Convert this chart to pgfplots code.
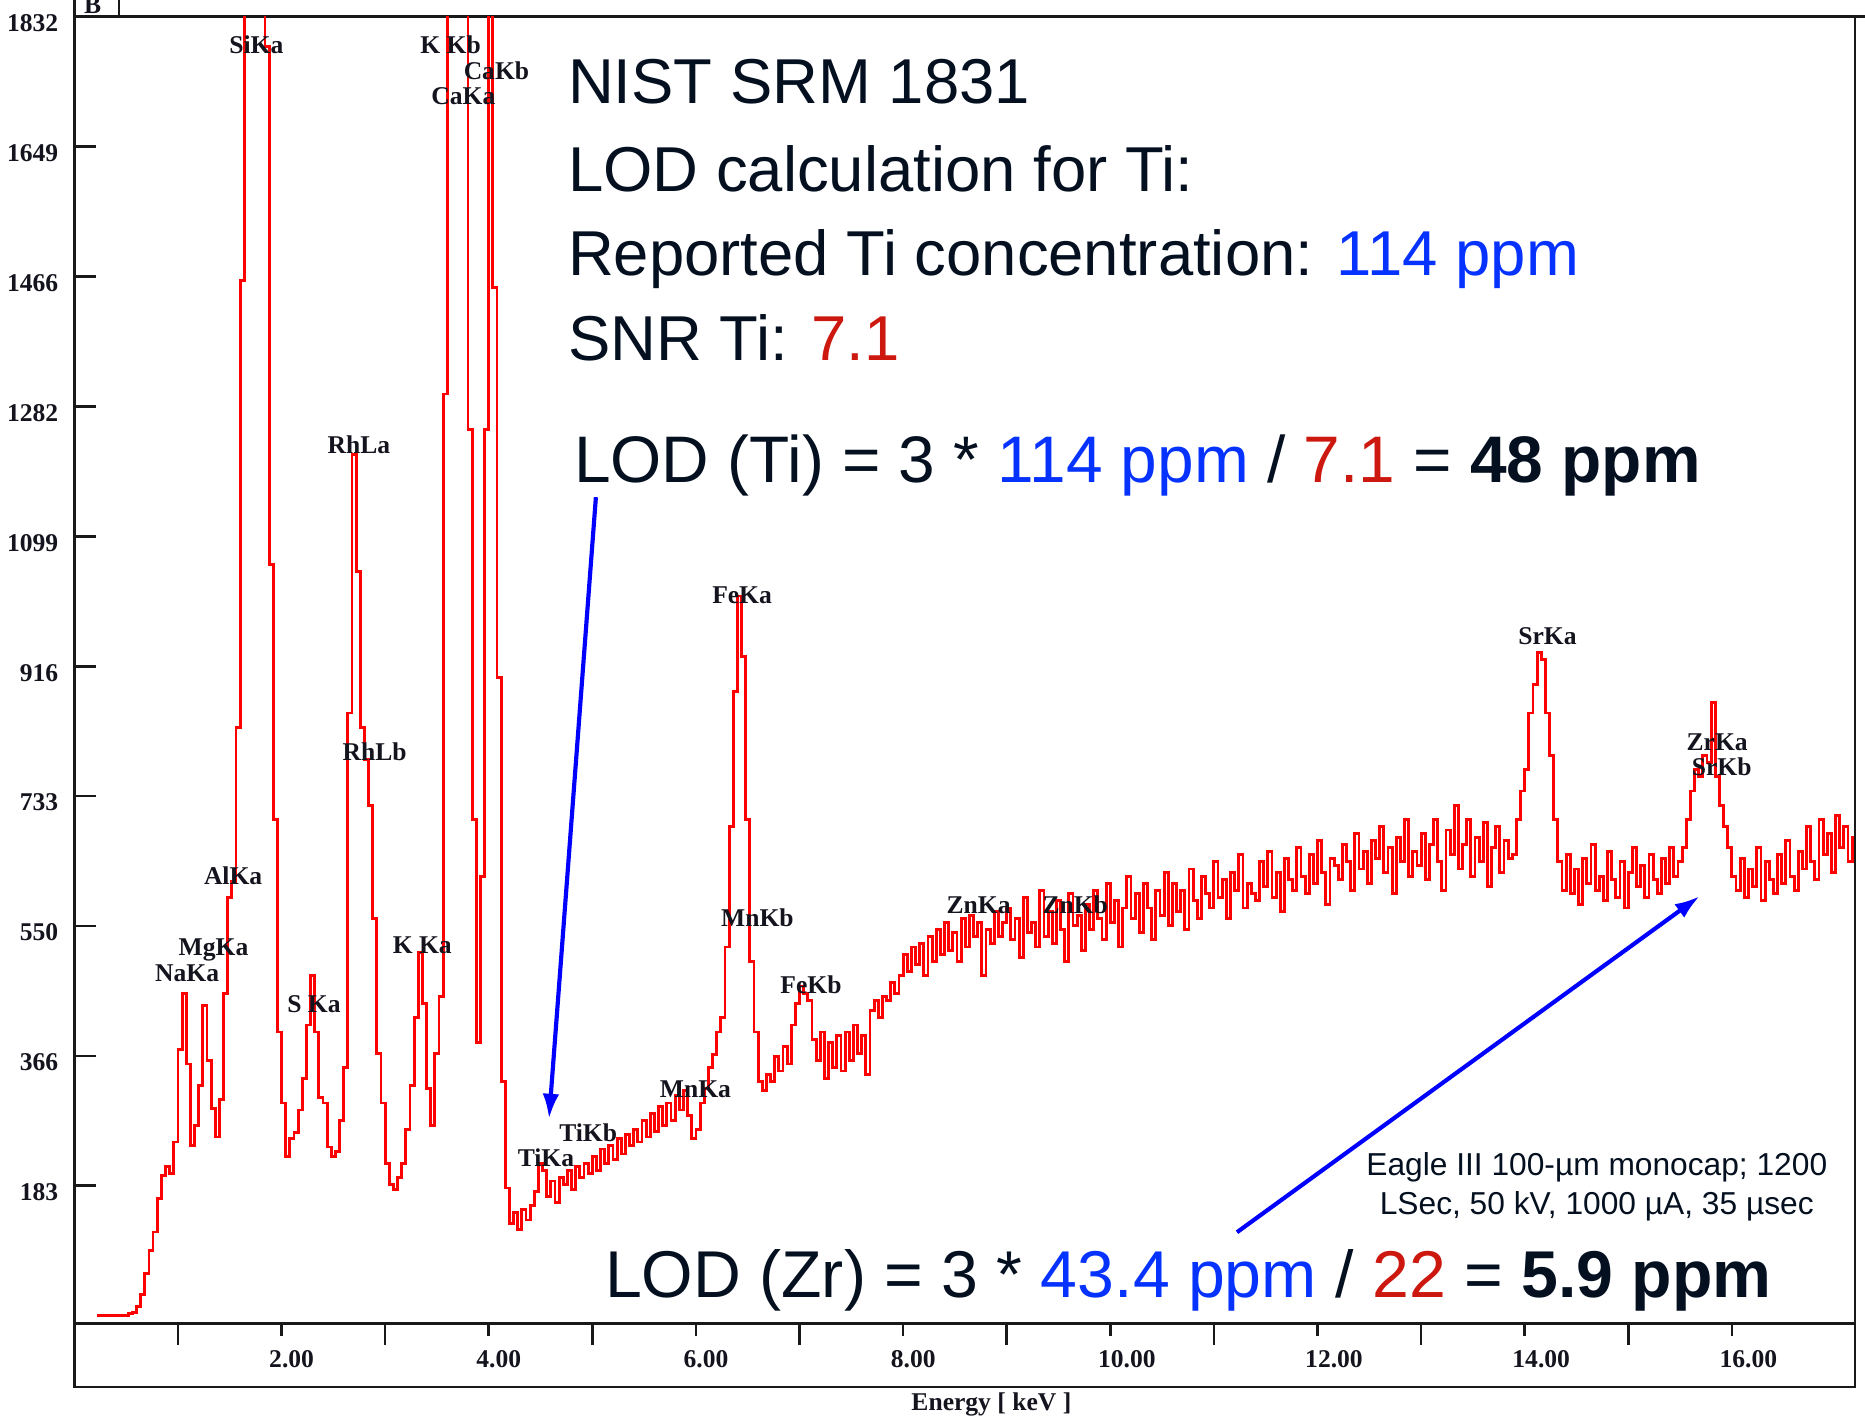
\documentclass[border=0pt]{standalone}
\usepackage{pgfplots}
\pgfplotsset{compat=1.18}
\usepackage{pgfplotstable}
\usepackage{fontspec}
\setmainfont{Liberation Sans}
\newfontfamily\tnr{Liberation Serif}
\usetikzlibrary{arrows.meta}

\definecolor{txt}{RGB}{4,16,32}
\definecolor{hiblue}{RGB}{5,50,255}
\definecolor{hired}{RGB}{204,24,14}
\definecolor{arrowblue}{RGB}{0,0,255}
\definecolor{frame}{RGB}{25,25,25}
\definecolor{lbl}{RGB}{20,20,30}

\newcommand\lblfont{\tnr\bfseries\fontsize{6.45}{7.5}\selectfont}

% XRF spectrum, counts per channel (channel centre in keV)
\pgfplotstableread{
E C
0.22 0
0.26 0
0.30 0
0.34 0
0.38 0
0.42 0
0.46 0
0.50 0
0.54 3
0.58 5
0.62 13
0.66 30
0.70 60
0.74 92
0.78 118
0.82 165
0.86 198
0.90 210
0.94 200
0.98 245
1.02 375
1.06 455
1.10 355
1.14 240
1.18 268
1.22 325
1.26 438
1.30 360
1.34 292
1.38 252
1.42 305
1.46 455
1.50 590
1.54 612
1.58 830
1.62 1460
1.66 2600
1.70 4200
1.74 4800
1.78 4000
1.82 2400
1.86 1790
1.90 1060
1.94 700
1.98 400
2.02 300
2.06 225
2.10 250
2.14 258
2.18 290
2.22 335
2.26 410
2.30 480
2.34 400
2.38 308
2.42 300
2.46 238
2.50 225
2.54 232
2.58 275
2.62 350
2.66 850
2.70 1215
2.74 1050
2.78 830
2.82 785
2.86 720
2.90 560
2.94 370
2.98 300
3.02 215
3.06 185
3.10 178
3.14 195
3.18 215
3.22 262
3.26 325
3.30 420
3.34 512
3.38 440
3.42 320
3.46 268
3.50 370
3.54 450
3.58 1300
3.62 2400
3.66 3200
3.70 4500
3.74 3800
3.78 2300
3.82 1250
3.86 700
3.90 385
3.94 620
3.98 1250
4.02 2300
4.06 1450
4.10 900
4.14 330
4.18 180
4.22 130
4.26 145
4.30 122
4.34 150
4.38 135
4.42 155
4.46 175
4.50 215
4.54 205
4.58 168
4.62 190
4.66 160
4.70 195
4.74 185
4.78 205
4.82 178
4.86 210
4.90 195
4.94 215
4.98 200
5.02 225
5.06 205
5.10 235
5.14 215
5.18 240
5.22 220
5.26 250
5.30 228
5.34 255
5.38 240
5.42 262
5.46 245
5.50 275
5.54 252
5.58 285
5.62 260
5.66 295
5.70 268
5.74 300
5.78 275
5.82 310
5.86 290
5.90 318
5.94 282
5.98 250
6.02 262
6.06 300
6.10 320
6.14 350
6.18 368
6.22 400
6.26 421
6.30 520
6.34 690
6.38 880
6.42 1015
6.46 930
6.50 700
6.54 500
6.58 400
6.62 330
6.66 318
6.70 340
6.74 330
6.78 365
6.82 345
6.86 380
6.90 355
6.94 410
6.98 440
7.02 465
7.06 455
7.10 445
7.14 390
7.18 360
7.22 400
7.26 335
7.30 385
7.34 350
7.38 395
7.42 345
7.46 400
7.50 360
7.54 410
7.58 370
7.62 395
7.66 340
7.70 430
7.74 445
7.78 420
7.82 450
7.86 445
7.90 470
7.94 455
7.98 480
8.02 510
8.06 485
8.10 520
8.14 495
8.18 525
8.22 480
8.26 535
8.30 500
8.34 545
8.38 510
8.42 555
8.46 515
8.50 540
8.54 500
8.58 560
8.62 520
8.66 565
8.70 535
8.74 555
8.78 480
8.82 545
8.86 525
8.90 570
8.94 535
8.98 555
9.02 575
9.06 530
9.10 560
9.14 505
9.18 590
9.22 540
9.26 555
9.30 520
9.34 600
9.38 535
9.42 570
9.46 525
9.50 585
9.54 545
9.58 500
9.62 595
9.66 550
9.70 565
9.74 515
9.78 580
9.82 545
9.86 600
9.90 560
9.94 530
9.98 610
10.02 555
10.06 585
10.10 520
10.14 575
10.18 620
10.22 560
10.26 595
10.30 540
10.34 610
10.38 575
10.42 530
10.46 600
10.50 565
10.54 625
10.58 550
10.62 610
10.66 570
10.70 600
10.74 545
10.78 630
10.82 585
10.86 560
10.90 620
10.94 595
10.98 575
11.02 640
11.06 590
11.10 615
11.14 560
11.18 625
11.22 600
11.26 650
11.30 575
11.34 610
11.38 595
11.42 585
11.46 640
11.50 605
11.54 655
11.58 590
11.62 625
11.66 570
11.70 645
11.74 615
11.78 600
11.82 660
11.86 620
11.90 595
11.94 650
11.98 610
12.02 670
12.06 625
12.10 580
12.14 645
12.18 635
12.22 615
12.26 665
12.30 640
12.34 600
12.38 680
12.42 630
12.46 655
12.50 610
12.54 670
12.58 645
12.62 690
12.66 625
12.70 660
12.74 595
12.78 675
12.82 640
12.86 700
12.90 620
12.94 655
12.98 635
13.02 680
13.06 615
13.10 665
13.14 700
13.18 640
13.22 600
13.26 685
13.30 650
13.34 720
13.38 630
13.42 665
13.46 700
13.50 620
13.54 675
13.58 640
13.62 695
13.66 605
13.70 660
13.74 690
13.78 625
13.82 670
13.86 645
13.90 650
13.94 700
13.98 740
14.02 770
14.06 850
14.10 890
14.14 935
14.18 925
14.22 850
14.26 790
14.30 700
14.34 640
14.38 600
14.42 650
14.46 595
14.50 630
14.54 580
14.58 645
14.62 610
14.66 665
14.70 600
14.74 620
14.78 585
14.82 655
14.86 615
14.90 590
14.94 640
14.98 575
15.02 625
15.06 660
15.10 605
15.14 635
15.18 590
15.22 650
15.26 615
15.30 595
15.34 645
15.38 610
15.42 660
15.46 620
15.50 640
15.54 660
15.58 700
15.62 740
15.66 770
15.70 760
15.74 790
15.78 780
15.82 865
15.86 760
15.90 720
15.94 690
15.98 660
16.02 620
16.06 600
16.10 645
16.14 590
16.18 630
16.22 605
16.26 660
16.30 585
16.34 640
16.38 615
16.42 595
16.46 650
16.50 610
16.54 670
16.58 620
16.62 600
16.66 655
16.70 630
16.74 690
16.78 640
16.82 615
16.86 700
16.90 650
16.94 680
16.98 625
17.02 705
17.06 660
17.10 690
17.14 640
17.18 675
}\spectrum

\begin{document}
\begin{tikzpicture}
\pgfplotsset{
  specframe/.style={
    at={(0pt,0pt)}, anchor=south west,
    scale only axis, width=449.13pt, height=329.55pt,
    xmin=0, xmax=17.188, ymin=-10.8, ymax=1832,
  },
}
% spectrum with the count axis
\begin{axis}[specframe,
  axis line style={frame, line width=0.65pt},
  xtick=\empty,
  ytick={183.2,366.4,549.6,732.8,916,1099.2,1282.4,1465.6,1648.8,1832},
  yticklabels={183,366,550,733,916,1099,1282,1466,1649,1832},
  ytick pos=left, tick align=inside, major tick length=5.4pt,
  ytick style={frame, line width=0.65pt},
  yticklabel style={font=\lblfont, text=lbl, anchor=east, inner sep=0pt,
    xshift=-3.87pt, yshift=-1.65pt},
  clip mode=individual,
]
\addplot[red, line width=0.72pt, const plot mark mid] table[x=E, y=C] {\spectrum};
\end{axis}
% long unlabelled energy ticks (odd keV)
\begin{axis}[specframe, hide y axis, axis line style={draw=none},
  xtick={1,3,...,15}, xticklabels={}, xtick pos=left,
  tick align=outside, major tick length=5.4pt,
  xtick style={frame, line width=0.65pt},
]
\end{axis}
% short labelled energy ticks (even keV)
\begin{axis}[specframe, hide y axis, axis line style={draw=none},
  xtick={2,4,...,16},
  xticklabels={2.00,4.00,6.00,8.00,10.00,12.00,14.00,16.00},
  xtick pos=left, tick align=outside, major tick length=3.3pt,
  xtick style={frame, line width=0.65pt},
  xticklabel style={font=\lblfont, text=lbl, anchor=west, inner sep=0pt,
    xshift=-3.3pt, yshift=-5.82pt},
]
\end{axis}

% annotations, in a screen-like frame (origin top left, y downwards)
\begin{scope}[x=0.3pt, y=-0.3pt, shift={(-18.75pt,333.78pt)},
  pk/.style={font=\lblfont, text=lbl, anchor=base, inner sep=0pt}]
  \draw[frame, line width=0.65pt] (62.5,1112.6) -- (62.5,1166) -- (1559.6,1166) -- (1559.6,1112.6);
  \draw[frame, line width=0.65pt] (62.5,14.1) -- (62.5,-10) (100,14.1) -- (100,-10)
        (1559.6,14.1) -- (1570,14.1);
  \node[pk] at (78,11) {B};
  \node[pk] at (833.5,1186) {Energy [ keV ]};

  \node[pk] at (215.5,45) {SiKa};
  \node[pk] at (378.8,45) {K Kb};
  \node[pk] at (417.4,67) {CaKb};
  \node[pk] at (389.6,88) {CaKa};
  \node[pk] at (301.8,381) {RhLa};
  \node[pk] at (315,639.7) {RhLb};
  \node[pk] at (196,744) {AlKa};
  \node[pk] at (179.5,803) {MgKa};
  \node[pk] at (157.3,825) {NaKa};
  \node[pk] at (264,851) {S Ka};
  \node[pk] at (355,802) {K Ka};
  \node[pk] at (459,981) {TiKa};
  \node[pk] at (494.5,960) {TiKb};
  \node[pk] at (623.9,507) {FeKa};
  \node[pk] at (636.8,778.7) {MnKb};
  \node[pk] at (681.8,835) {FeKb};
  \node[pk] at (584.7,922.7) {MnKa};
  \node[pk] at (822.8,768) {ZnKa};
  \node[pk] at (904,768) {ZnKb};
  \node[pk] at (1301,541.5) {SrKa};
  \node[pk] at (1443.7,631.3) {ZrKa};
  \node[pk] at (1447.5,652.3) {SrKb};

  \begin{scope}[every node/.style={anchor=base west, inner sep=0pt, text=txt}]
    \node[font=\fontsize{16}{19}\selectfont] at (477,87.4) {NIST SRM 1831};
    \node[font=\fontsize{16}{19}\selectfont] at (477,161.2) {LOD calculation for Ti:};
    \node[font=\fontsize{16}{19}\selectfont] at (477,232) {Reported Ti concentration: \textcolor{hiblue}{114 ppm}};
    \node[font=\fontsize{16}{19}\selectfont] at (477,303.2) {SNR Ti: \textcolor{hired}{7.1}};
    \node[font=\fontsize{16.6}{20}\selectfont] at (482,406)
      {LOD (Ti) = 3 * \textcolor{hiblue}{114 ppm} / \textcolor{hired}{7.1} = \textbf{48 ppm}};
    \node[font=\fontsize{16.7}{20}\selectfont] at (508,1091)
      {LOD (Zr) = 3 * \textcolor{hiblue}{43.4 ppm} / \textcolor{hired}{22} = \textbf{5.9 ppm}};
  \end{scope}
  \node[anchor=base, inner sep=0pt, text=txt, font=\fontsize{8}{9.8}\selectfont]
    at (1342.5,988.7) {Eagle III 100-µm monocap; 1200};
  \node[anchor=base, inner sep=0pt, text=txt, font=\fontsize{8}{9.8}\selectfont]
    at (1342.5,1021.5) {LSec, 50 kV, 1000 µA, 35 µsec};

  \draw[arrowblue, line width=1.05pt, -{Latex[length=6.3pt,width=4.2pt]}] (501,418) -- (461.6,940.6);
  \draw[arrowblue, line width=1.05pt, -{Latex[length=6.3pt,width=4.2pt]}] (1040,1036) -- (1429,753.5);

  \pgfresetboundingbox
  \useasboundingbox (0,0) rectangle (1568,1192);
\end{scope}
\end{tikzpicture}
\end{document}
